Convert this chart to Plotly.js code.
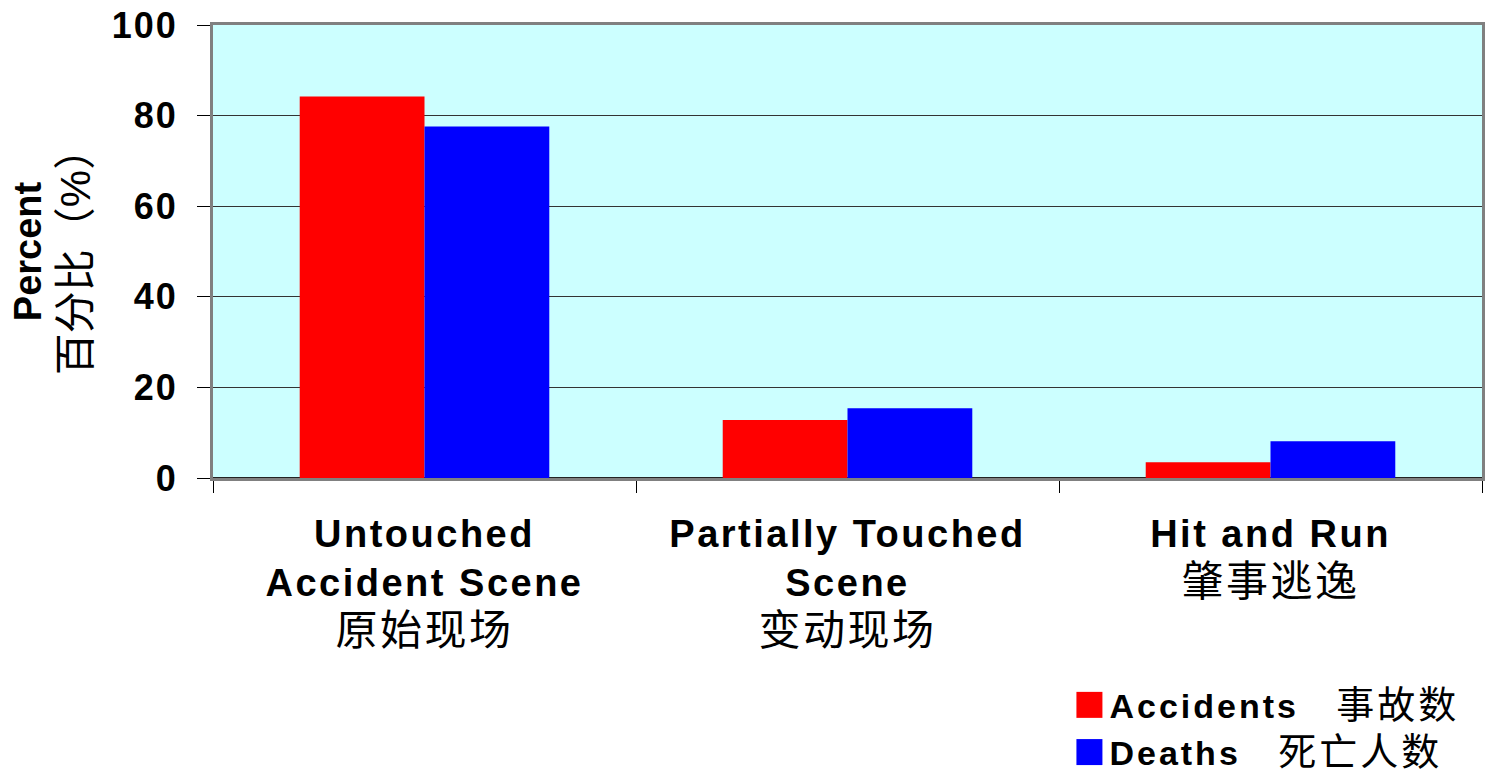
<!DOCTYPE html>
<html>
<head>
<meta charset="utf-8">
<script src="https://cdn.plot.ly/plotly-3.0.1.min.js"></script>
<style>
html,body{margin:0;padding:0;background:#fff;}
#chart{width:1502px;height:772px;}
.legend .legendpoints path{d:path("M13,13H-13V-13H13Z") !important;}
.legend .scrollbox{clip-path:none !important;}
.legend text{letter-spacing:3px;}
.xtick text{letter-spacing:2.5px;}
.ytick text{letter-spacing:2px;}
</style>
</head>
<body>
<div id="chart"></div>
<script>
var categories = [
  "<b>Untouched<br>Accident Scene</b><br><span style='font-size:42px'>原始现场</span>",
  "<b>Partially Touched<br>Scene</b><br><span style='font-size:42px'>变动现场</span>",
  "<b>Hit and Run</b><br><span style='font-size:42px'>肇事逃逸</span>"
];
var accidents = [84.2, 12.8, 3.5];
var deaths = [77.6, 15.4, 8.1];
var seriesNames = [
  "<b>Accidents</b>\u00a0\u00a0\u00a0<span style='font-size:38px'>事故数</span>",
  "<b>Deaths</b>\u00a0\u00a0\u00a0<span style='font-size:38px'>死亡人数</span>"
];
var yTicks = [0, 20, 40, 60, 80, 100];

var FONT = "Liberation Sans, Arial, Noto Sans CJK SC, sans-serif";

var traces = [
  {type: "bar", name: seriesNames[0], x: categories, y: accidents,
   marker: {color: "#ff0000", line: {width: 0}}, hoverinfo: "y"},
  {type: "bar", name: seriesNames[1], x: categories, y: deaths,
   marker: {color: "#0000ff", line: {width: 0}}, hoverinfo: "y"}
];

var layout = {
  width: 1502, height: 772,
  margin: {l: 213, r: 20, t: 25, b: 294, autoexpand: false},
  paper_bgcolor: "#ffffff",
  plot_bgcolor: "#ccffff",
  font: {family: FONT, color: "#000000"},
  barmode: "group",
  bargap: 0.41,
  bargroupgap: 0,
  showlegend: true,
  legend: {
    xref: "container", yref: "container",
    x: 0.712, xanchor: "left", y: 0.124, yanchor: "top",
    font: {family: FONT, size: 34, color: "#000"},
    bgcolor: "rgba(0,0,0,0)", borderwidth: 0,
    tracegroupgap: 0, itemclick: false
  },
  xaxis: {
    type: "category",
    tickson: "boundaries",
    ticks: "outside", ticklen: 12, tickcolor: "#000", tickwidth: 1,
    tickfont: {family: FONT, size: 38, color: "#000"},
    showline: true, linecolor: "#808080", linewidth: 3, mirror: true,
    showgrid: false, automargin: false, fixedrange: true,
    ticklabelstandoff: 20
  },
  yaxis: {
    range: [0, 100],
    tickvals: yTicks,
    ticktext: yTicks.map(function(v){return "<b>" + v + "</b>";}),
    ticks: "outside", ticklen: 13, tickcolor: "#000", tickwidth: 1,
    tickfont: {family: FONT, size: 36, color: "#000"},
    showline: true, linecolor: "#808080", linewidth: 3, mirror: true,
    showgrid: true, gridcolor: "#333333", gridwidth: 1,
    zeroline: true, zerolinecolor: "#222222", zerolinewidth: 2,
    automargin: false, fixedrange: true,
    ticklabelstandoff: 12,
    title: {text: "<b>Percent</b><br><span style='font-size:42px'>百分比（%）</span>", font: {family: FONT, size: 38, color: "#000"}, standoff: 10}
  }
};

Plotly.newPlot("chart", traces, layout, {displayModeBar: false, staticPlot: true});
</script>
</body>
</html>
